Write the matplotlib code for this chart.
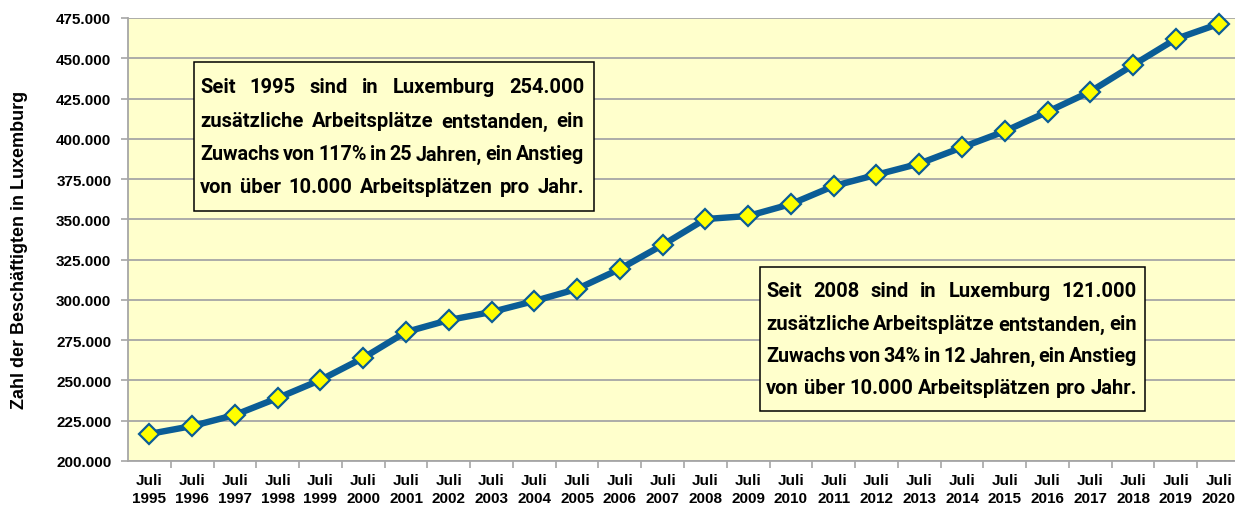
import matplotlib
matplotlib.use('Agg')
import matplotlib.pyplot as plt
from matplotlib.patches import Rectangle
from matplotlib.transforms import IdentityTransform

# data
years = list(range(1995, 2021))
beschaeftigte = [216800, 221700, 228600, 239100, 250300, 264000, 280100, 287500,
                 292500, 299300, 306800, 319200, 334100, 350200, 352100, 359500,
                 370700, 377700, 384600, 394700, 404700, 416800, 429300, 445800,
                 462000, 471300]
x_labels = ['Juli\n' + str(y) for y in years]
y_ticks = list(range(200000, 475001, 25000))
y_labels = ['{:,}'.format(v).replace(',', '.') for v in y_ticks]

box1_lines = ['Seit 1995 sind in Luxemburg 254.000',
              'zusätzliche Arbeitsplätze entstanden, ein',
              'Zuwachs von 117% in 25 Jahren, ein Anstieg',
              'von über 10.000 Arbeitsplätzen pro Jahr.']
box2_lines = ['Seit 2008 sind in Luxemburg 121.000',
              'zusätzliche Arbeitsplätze entstanden, ein',
              'Zuwachs von 34% in 12 Jahren, ein Anstieg',
              'von über 10.000 Arbeitsplätzen pro Jahr.']

BG = '#FFFFCC'
GRID = '#A6A6A6'
LINE = '#0B5D96'
W, H = 1235, 506

fig = plt.figure(figsize=(12.35, 5.06), dpi=100)
fig.patch.set_facecolor('white')
ax = fig.add_axes([128 / W, 1 - 462 / H, 1112 / W, 443 / H])
ax.set_facecolor(BG)

x = list(range(len(years)))
ax.plot(x, beschaeftigte, color=LINE, lw=4.6, marker='D', ms=10,
        mfc='#FFFF00', mec=LINE, mew=1.6, zorder=3, clip_on=False)

ax.set_xlim(-0.5, len(years) - 0.5)
ax.set_ylim(200000, 475000)
ax.set_yticks(y_ticks)
ax.set_yticklabels(y_labels, fontsize=11, fontweight='bold', family='Liberation Sans')
ax.set_xticks(x)
ax.set_xticklabels(x_labels, fontsize=11, fontweight='bold', family='Liberation Sans',
                   linespacing=1.3)
ax.set_xticks([i + 0.5 for i in x[:-1]], minor=True)
ax.tick_params(axis='x', which='major', length=0, pad=9)
ax.tick_params(axis='x', which='minor', length=5, color=GRID, width=1.2)
ax.tick_params(axis='y', length=5, color=GRID, width=1.2, pad=7)

ax.grid(axis='y', color=GRID, lw=1.3)
ax.set_axisbelow(True)
for s in ['top', 'right']:
    ax.spines[s].set_visible(False)
for s in ['left', 'bottom']:
    ax.spines[s].set_color(GRID)
    ax.spines[s].set_linewidth(1.3)

ax.set_ylabel('Zahl der Beschäftigten in Luxemburg', fontsize=13, fontweight='bold',
              family='Liberation Sans', va='center')
ax.yaxis.set_label_coords((20 - 128) / 1112, (462 - 250) / 443)

fig.canvas.draw()
renderer = fig.canvas.get_renderer()


def text_box(lines, left, right, top, bottom, tx0, tx1, line_ys, fs):
    # box and justified text, all in figure pixels from the top-left
    ax.add_patch(Rectangle((left, H - bottom), right - left, bottom - top,
                           transform=IdentityTransform(), facecolor=BG,
                           edgecolor='black', lw=1.1, zorder=5, clip_on=False))
    for line, yc in zip(lines, line_ys):
        words = line.split()
        size = fs
        while True:
            arts = [fig.text(0, 0, w, fontsize=size, fontweight='bold',
                             family=['Liberation Sans Narrow', 'Roboto'],
                             va='center', ha='left', transform=IdentityTransform(),
                             zorder=6) for w in words]
            widths = [a.get_window_extent(renderer).width for a in arts]
            gap = (tx1 - tx0 - sum(widths)) / (len(words) - 1)
            if gap >= 3 or size < 10:
                break
            for a in arts:
                a.remove()
            size -= 0.25
        xpos = tx0
        for a, wd in zip(arts, widths):
            a.set_position((xpos, H - yc))
            xpos += wd + gap


text_box(box1_lines, 194, 594, 63, 212, 200, 584, [88, 122, 155, 188], 14.5)
text_box(box2_lines, 760, 1145, 268, 412, 766, 1137, [292, 325, 357, 389], 14.5)

fig.savefig('out.png', dpi=100)
